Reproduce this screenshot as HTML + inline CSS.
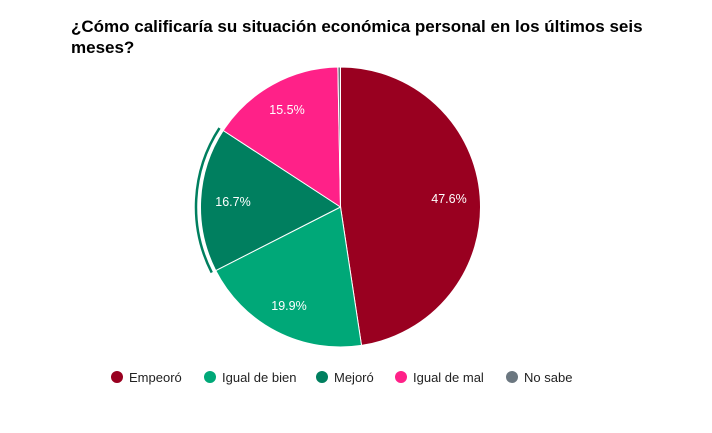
<!DOCTYPE html>
<html><head><meta charset="utf-8"><style>
body{margin:0;background:#fff;width:712px;height:428px;overflow:hidden;font-family:"Liberation Sans",Arial,sans-serif}
</style></head><body>
<svg id="s" width="712" height="428" xmlns="http://www.w3.org/2000/svg" font-family="Liberation Sans, Arial, sans-serif">
<text x="71" y="32" font-size="17" font-weight="bold" fill="#000">¿Cómo calificaría su situación económica personal en los últimos seis</text>
<text x="71" y="53" font-size="17" font-weight="bold" fill="#000">meses?</text>
<g id="pie"></g>
<g font-size="13" fill="#222">
<circle cx="117" cy="377" r="6" fill="#990020"/><text x="129" y="382">Empeoró</text>
<circle cx="210" cy="377" r="6" fill="#00a878"/><text x="222" y="382">Igual de bien</text>
<circle cx="322" cy="377" r="6" fill="#007f5f"/><text x="334" y="382">Mejoró</text>
<circle cx="401" cy="377" r="6" fill="#ff2188"/><text x="413" y="382">Igual de mal</text>
<circle cx="512" cy="377" r="6" fill="#6b7780"/><text x="524" y="382">No sabe</text>
</g>
</svg>
<script>
var cx=340.5,cy=207,r=140;
var d=[[47.6,"#990020"],[19.9,"#00a878"],[16.7,"#007f5f"],[15.5,"#ff2188"],[0.3,"#6b7780"]];
var g=document.getElementById("pie"),h="",a=0;
function pt(ang,R){var t=ang/100*2*Math.PI;return [cx+R*Math.sin(t),cy-R*Math.cos(t)];}
d.forEach(function(s,i){var a0=a,a1=a+s[0];a=a1;var p0=pt(a0,r),p1=pt(a1,r);
h+='<path d="M'+cx+','+cy+' L'+p0[0]+','+p0[1]+' A'+r+','+r+' 0 '+(s[0]>50?1:0)+' 1 '+p1[0]+','+p1[1]+' Z" fill="'+s[1]+'" stroke="#fff" stroke-width="1"/>';
if(i==2){var R=144.5,q0=pt(a0,R),q1=pt(a1,R);h+='<path d="M'+q0[0]+','+q0[1]+' A'+R+','+R+' 0 0 1 '+q1[0]+','+q1[1]+'" fill="none" stroke="#007f5f" stroke-width="2.5"/>';}
});
h+='<g font-size="12.5" fill="#fff" text-anchor="middle"><text x="449" y="203">47.6%</text><text x="289" y="310">19.9%</text><text x="233" y="206">16.7%</text><text x="287" y="114">15.5%</text></g>';
g.innerHTML=h;
</script>
</body></html>
